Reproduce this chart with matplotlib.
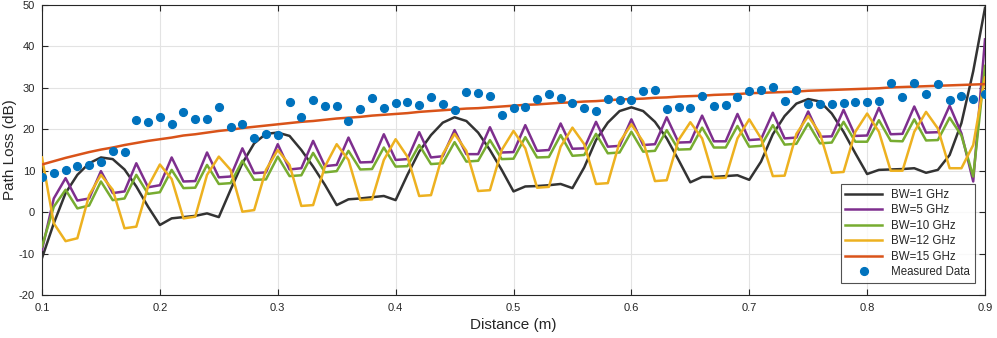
import matplotlib
matplotlib.use("Agg")
import matplotlib.pyplot as plt
import numpy as np

distance = [round(0.10 + 0.01 * i, 2) for i in range(81)]

bw1 = [-11.1, -2.7, 4.6, 9.0, 11.8, 13.2, 12.8, 10.3, 6.2, 1.3,
       -3.1, -1.5, -1.2, -0.9, -0.3, -1.2, 5.4, 11.8, 16.6, 18.9,
       19.2, 18.4, 15.0, 11.0, 6.6, 1.7, 3.1, 3.3, 3.6, 3.9,
       2.9, 9.0, 14.6, 18.6, 21.6, 22.9, 22.0, 19.2, 15.0, 10.2,
       5.0, 6.2, 6.3, 6.5, 6.8, 5.8, 10.8, 17.4, 21.6, 24.4,
       25.3, 24.4, 21.8, 17.8, 12.6, 7.2, 8.5, 8.5, 8.7, 8.9,
       7.8, 12.2, 18.8, 23.2, 26.2, 27.3, 26.7, 23.8, 19.4, 14.2,
       9.2, 10.2, 10.3, 10.4, 10.6, 9.5, 10.2, 13.8, 21.5, 34.0,
       49.3]

bw5 = [-9.1, 3.3, 8.2, 2.8, 3.3, 9.9, 4.6, 5.0, 11.8, 6.0,
       6.5, 13.2, 7.4, 7.5, 14.4, 8.4, 8.6, 15.4, 9.4, 9.6,
       16.4, 10.3, 10.6, 17.2, 11.1, 11.4, 18.0, 12.0, 12.1, 18.8,
       12.6, 12.8, 19.3, 13.2, 13.5, 19.8, 14.0, 14.0, 20.5, 14.4,
       14.5, 21.0, 14.8, 15.0, 21.4, 15.3, 15.4, 21.8, 15.8, 16.0,
       22.4, 16.2, 16.4, 22.9, 16.8, 16.9, 23.3, 17.1, 17.1, 23.7,
       17.4, 17.6, 24.0, 17.8, 18.0, 24.3, 18.2, 18.3, 24.7, 18.4,
       18.5, 25.2, 18.8, 18.9, 25.5, 19.2, 19.3, 25.7, 19.0, 7.4,
       41.7]

bw10 = [-8.3, 1.3, 5.4, 0.9, 1.6, 7.4, 2.9, 3.3, 9.0, 4.4,
        4.8, 10.2, 5.8, 5.9, 11.4, 6.8, 7.0, 12.4, 7.8, 7.9,
        13.4, 8.7, 8.9, 14.3, 9.6, 9.9, 14.8, 10.3, 10.4, 15.6,
        11.0, 11.1, 16.2, 11.6, 11.8, 16.9, 12.2, 12.4, 17.4, 12.8,
        12.9, 18.1, 13.2, 13.3, 18.6, 13.6, 13.8, 18.9, 14.2, 14.4,
        19.4, 14.6, 14.8, 19.8, 15.1, 15.2, 20.4, 15.6, 15.6, 20.8,
        15.8, 16.0, 21.0, 16.3, 16.5, 21.4, 16.6, 16.8, 21.8, 17.0,
        17.0, 22.2, 17.2, 17.1, 22.4, 17.3, 17.4, 22.8, 18.5, 8.6,
        35.3]

bw12 = [13.2, -2.7, -7.0, -6.3, 4.1, 9.0, 5.4, -3.9, -3.5, 6.2,
        11.5, 8.0, -1.5, -1.1, 9.0, 13.4, 10.2, 0.1, 0.5, 10.2,
        15.0, 11.4, 1.5, 1.7, 11.0, 16.4, 12.6, 2.9, 3.1, 12.6,
        17.6, 13.4, 3.9, 4.1, 14.0, 18.9, 14.8, 5.1, 5.3, 15.0,
        19.6, 15.4, 5.9, 6.1, 15.8, 20.4, 16.4, 6.8, 7.0, 16.9,
        21.2, 17.0, 7.5, 7.7, 17.4, 21.7, 17.8, 8.2, 8.3, 17.8,
        22.4, 17.8, 8.7, 8.8, 18.9, 23.2, 19.0, 9.5, 9.7, 19.4,
        23.8, 19.4, 10.0, 10.0, 19.4, 24.2, 20.2, 10.6, 10.6, 16.2,
        32.5]

bw15 = [11.5, 12.3, 13.1, 13.8, 14.5, 15.1, 15.6, 16.2, 16.7, 17.2,
        17.6, 18.0, 18.5, 18.8, 19.2, 19.6, 19.9, 20.3, 20.6, 20.9,
        21.2, 21.5, 21.8, 22.0, 22.3, 22.6, 22.8, 23.0, 23.3, 23.5,
        23.7, 23.9, 24.2, 24.4, 24.6, 24.8, 25.0, 25.1, 25.3, 25.5,
        25.7, 25.9, 26.0, 26.2, 26.4, 26.5, 26.7, 26.8, 27.0, 27.2,
        27.3, 27.4, 27.6, 27.7, 27.9, 28.0, 28.1, 28.3, 28.4, 28.5,
        28.7, 28.8, 28.9, 29.0, 29.1, 29.3, 29.4, 29.5, 29.6, 29.7,
        29.8, 29.9, 30.1, 30.2, 30.3, 30.4, 30.5, 30.6, 30.7, 30.8,
        30.9]

measured = [8.4, 9.5, 10.2, 11.1, 11.5, 12.1, 14.7, 14.4, 22.3, 21.8,
            22.9, 21.3, 24.2, 22.4, 22.4, 25.3, 20.6, 21.2, 17.9, 18.9,
            18.6, 26.5, 23.0, 27.1, 25.7, 25.7, 22.0, 24.9, 27.6, 25.2,
            26.3, 26.6, 25.8, 27.9, 26.0, 24.6, 28.9, 28.7, 28.0, 23.5,
            25.2, 25.5, 27.3, 28.4, 27.5, 26.3, 25.1, 24.5, 27.3, 27.0,
            27.0, 29.2, 29.5, 24.8, 25.4, 25.1, 28.0, 25.6, 25.8, 27.8,
            29.2, 29.5, 30.3, 26.9, 29.4, 26.1, 26.1, 26.2, 26.3, 26.7,
            26.5, 26.8, 31.1, 27.7, 31.1, 28.4, 30.9, 27.1, 28.1, 27.4,
            28.4]

x_ticks = [0.1, 0.2, 0.3, 0.4, 0.5, 0.6, 0.7, 0.8, 0.9]
x_tick_labels = ["0.1", "0.2", "0.3", "0.4", "0.5", "0.6", "0.7", "0.8", "0.9"]
y_ticks = [-20, -10, 0, 10, 20, 30, 40, 50]
y_tick_labels = ["-20", "-10", "0", "10", "20", "30", "40", "50"]
series_labels = ["BW=1 GHz", "BW=5 GHz", "BW=10 GHz", "BW=12 GHz", "BW=15 GHz"]
series_colors = ["#333333", "#7E2F8E", "#77AC30", "#EDB120", "#D95319"]

plt.rcParams['font.family'] = ['Liberation Sans', 'DejaVu Sans']
plt.rcParams['axes.unicode_minus'] = False

fig = plt.figure(figsize=(9.97, 3.38), dpi=100)
ax = fig.add_axes([42 / 997, 1 - 295 / 338, 943 / 997, 290 / 338])

for vals, lab, col in zip([bw1, bw5, bw10, bw12, bw15], series_labels, series_colors):
    ax.plot(distance, vals, color=col, lw=1.8, label=lab, zorder=3)
ax.plot(distance, measured, linestyle='none', marker='o', markersize=5.6,
        color='#0072BD', label='Measured Data', zorder=4)

ax.set_xlim(0.1, 0.9)
ax.set_ylim(-20, 50)
ax.set_xticks(x_ticks)
ax.set_xticklabels(x_tick_labels)
ax.set_yticks(y_ticks)
ax.set_yticklabels(y_tick_labels)
ax.grid(True, color='#e3e3e3', lw=0.8, zorder=0)
ax.set_axisbelow(True)
ax.tick_params(direction='in', top=True, right=True, length=4, width=0.8,
               colors='#262626', labelsize=8)
ax.tick_params(axis='x', pad=6)
ax.tick_params(axis='y', pad=5)
for s in ax.spines.values():
    s.set_color('#262626')
    s.set_linewidth(0.8)
ax.set_xlabel('Distance (m)', fontsize=11, color='#262626')
ax.set_ylabel('Path Loss (dB)', fontsize=11, color='#262626')
ax.xaxis.set_label_coords(0.5, -0.08)
ax.yaxis.set_label_coords(-0.026, 0.5)

leg = ax.legend(loc='lower right', bbox_to_anchor=(0.993, 0.03), fontsize=8.3,
                frameon=True, fancybox=False, handlelength=3.2, handletextpad=0.8,
                borderpad=0.4, labelspacing=0.3, borderaxespad=0.3)
leg.get_frame().set_edgecolor('#262626')
leg.get_frame().set_linewidth(0.8)
for t in leg.get_texts():
    t.set_color('#262626')

fig.savefig('out.png', dpi=100)
